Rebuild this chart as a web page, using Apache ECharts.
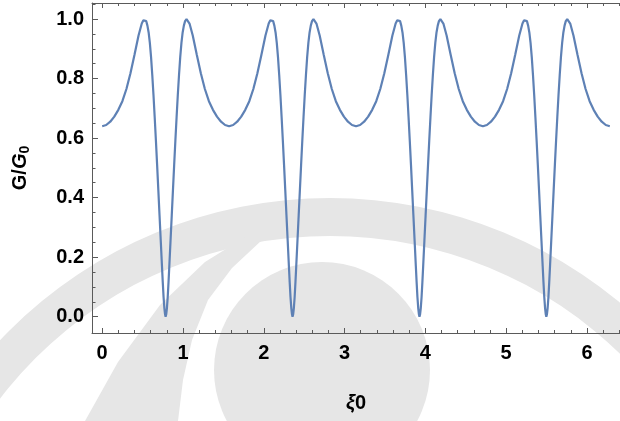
<!DOCTYPE html>
<html>
<head>
<meta charset="utf-8">
<script src="https://cdn.jsdelivr.net/npm/echarts@6/dist/echarts.min.js"></script>
<style>html,body{margin:0;padding:0;background:#fff;}#c{width:620px;height:421px;}</style>
</head>
<body>
<div id="c"></div>
<script>
// ξ0 values
var xi = [
0.000,0.050,0.100,0.150,0.200,0.250,0.300,0.350,0.400,0.450,0.490,0.510,0.527,
0.545,0.560,0.575,0.590,0.605,0.620,0.635,0.650,0.665,0.680,0.695,0.710,0.725,0.740,0.750,0.760,0.770,0.778,0.785,
0.793,0.801,0.811,0.821,0.831,0.846,0.861,0.876,0.891,0.906,0.921,0.936,0.951,0.966,0.981,0.996,1.011,1.026,1.044,1.061,
1.081,1.121,1.171,1.221,1.271,1.321,1.371,1.421,1.471,1.521,
1.571,1.621,1.671,1.721,1.771,1.821,1.871,1.921,1.971,2.021,2.061,2.081,2.098,
2.116,2.131,2.146,2.161,2.176,2.191,2.206,2.221,2.236,2.251,2.266,2.281,2.296,2.311,2.321,2.331,2.341,2.349,2.356,
2.364,2.372,2.382,2.392,2.402,2.417,2.432,2.447,2.462,2.477,2.492,2.507,2.522,2.537,2.552,2.567,2.582,2.597,2.615,2.632,
2.652,2.692,2.742,2.792,2.842,2.892,2.942,2.992,3.042,3.092,
3.142,3.192,3.242,3.292,3.342,3.392,3.442,3.492,3.542,3.592,3.632,3.652,3.669,
3.687,3.702,3.717,3.732,3.747,3.762,3.777,3.792,3.807,3.822,3.837,3.852,3.867,3.882,3.892,3.902,3.912,3.920,3.927,
3.935,3.943,3.953,3.963,3.973,3.988,4.003,4.018,4.033,4.048,4.063,4.078,4.093,4.108,4.123,4.138,4.153,4.168,4.186,4.203,
4.223,4.263,4.313,4.363,4.413,4.463,4.513,4.563,4.613,4.663,
4.712,4.762,4.812,4.862,4.912,4.962,5.012,5.062,5.112,5.162,5.202,5.222,5.239,
5.257,5.272,5.287,5.302,5.317,5.332,5.347,5.362,5.377,5.392,5.407,5.422,5.437,5.452,5.462,5.472,5.482,5.490,5.497,
5.505,5.513,5.523,5.533,5.543,5.558,5.573,5.588,5.603,5.618,5.633,5.648,5.663,5.678,5.693,5.708,5.723,5.738,5.756,5.773,
5.793,5.833,5.883,5.933,5.983,6.033,6.083,6.133,6.183,6.233,6.283
];
// G/G0 values
var g = [
0.640,0.644,0.655,0.672,0.695,0.724,0.765,0.818,0.880,0.945,0.985,0.996,1.000,
0.993,0.978,0.955,0.920,0.872,0.812,0.745,0.670,0.592,0.510,0.425,0.340,0.255,0.170,0.115,0.065,0.028,0.008,0.000,
0.008,0.028,0.065,0.115,0.170,0.255,0.340,0.425,0.510,0.592,0.670,0.745,0.812,0.872,0.920,0.955,0.978,0.993,1.000,0.996,
0.985,0.945,0.880,0.818,0.765,0.724,0.695,0.672,0.655,0.644,
0.640,0.644,0.655,0.672,0.695,0.724,0.765,0.818,0.880,0.945,0.985,0.996,1.000,
0.993,0.978,0.955,0.920,0.872,0.812,0.745,0.670,0.592,0.510,0.425,0.340,0.255,0.170,0.115,0.065,0.028,0.008,0.000,
0.008,0.028,0.065,0.115,0.170,0.255,0.340,0.425,0.510,0.592,0.670,0.745,0.812,0.872,0.920,0.955,0.978,0.993,1.000,0.996,
0.985,0.945,0.880,0.818,0.765,0.724,0.695,0.672,0.655,0.644,
0.640,0.644,0.655,0.672,0.695,0.724,0.765,0.818,0.880,0.945,0.985,0.996,1.000,
0.993,0.978,0.955,0.920,0.872,0.812,0.745,0.670,0.592,0.510,0.425,0.340,0.255,0.170,0.115,0.065,0.028,0.008,0.000,
0.008,0.028,0.065,0.115,0.170,0.255,0.340,0.425,0.510,0.592,0.670,0.745,0.812,0.872,0.920,0.955,0.978,0.993,1.000,0.996,
0.985,0.945,0.880,0.818,0.765,0.724,0.695,0.672,0.655,0.644,
0.640,0.644,0.655,0.672,0.695,0.724,0.765,0.818,0.880,0.945,0.985,0.996,1.000,
0.993,0.978,0.955,0.920,0.872,0.812,0.745,0.670,0.592,0.510,0.425,0.340,0.255,0.170,0.115,0.065,0.028,0.008,0.000,
0.008,0.028,0.065,0.115,0.170,0.255,0.340,0.425,0.510,0.592,0.670,0.745,0.812,0.872,0.920,0.955,0.978,0.993,1.000,0.996,
0.985,0.945,0.880,0.818,0.765,0.724,0.695,0.672,0.655,0.644,0.640
];
// tick values
var xMajor = [0, 1, 2, 3, 4, 5, 6];
var xMinor = [0.2,0.4,0.6,0.8,1.2,1.4,1.6,1.8,2.2,2.4,2.6,2.8,3.2,3.4,3.6,3.8,4.2,4.4,4.6,4.8,5.2,5.4,5.6,5.8,6.2,6.4];
var yMajor = [0, 0.2, 0.4, 0.6, 0.8, 1.0];
var yMinor = [0.05,0.1,0.15,0.25,0.3,0.35,0.45,0.5,0.55,0.65,0.7,0.75,0.85,0.9,0.95,1.05];

var X_MIN = -0.126, X_MAX = 6.409, Y_MIN = -0.055, Y_MAX = 1.054;
var FRAME = '#5a5a5a';
var FONT = 'Liberation Sans, Arial, Helvetica, sans-serif';

var pts = xi.map(function (v, i) { return [v, g[i]]; });

function xAx(pos, ticks, len, labels, line) {
  return {
    type: 'value', position: pos, min: X_MIN, max: X_MAX,
    axisLine: { show: line, onZero: false, lineStyle: { color: FRAME, width: 1 } },
    axisTick: { show: true, inside: true, length: len, customValues: ticks, lineStyle: { color: FRAME, width: 1 } },
    axisLabel: labels ? { show: true, customValues: ticks, margin: 10, color: '#000', fontSize: 20, fontWeight: 'bold', fontFamily: FONT,
      formatter: function (v) { return String(Math.round(v)); } } : { show: false },
    splitLine: { show: false }
  };
}
function yAx(ticks, len, labels, line) {
  return {
    type: 'value', position: 'left', min: Y_MIN, max: Y_MAX,
    axisLine: { show: line, onZero: false, lineStyle: { color: FRAME, width: 1 } },
    axisTick: { show: true, inside: true, length: len, customValues: ticks, lineStyle: { color: FRAME, width: 1 } },
    axisLabel: labels ? { show: true, customValues: ticks, margin: 8, color: '#000', fontSize: 20, fontWeight: 'bold', fontFamily: FONT,
      formatter: function (v) { return v.toFixed(1); } } : { show: false },
    splitLine: { show: false }
  };
}

var xa0 = xAx('bottom', xMajor, 5, true, true);
xa0.name = '{i|ξ}{n|0}';
xa0.nameLocation = 'middle';
xa0.nameGap = 60;
xa0.nameTextStyle = { rich: {
  i: { fontSize: 20, fontWeight: 'bold', fontStyle: 'italic', fontFamily: FONT, color: '#000' },
  n: { fontSize: 20, fontWeight: 'bold', fontFamily: FONT, color: '#000' } } };

var ya0 = yAx(yMajor, 6, true, true);
ya0.name = '{a|G/}{b|G}{s|0}';
ya0.nameLocation = 'middle';
ya0.nameGap = 60;
ya0.nameRotate = 90;
ya0.nameTextStyle = { rich: {
  a: { fontSize: 20, fontWeight: 'bold', fontFamily: FONT, color: '#000', lineHeight: 24 },
  b: { fontSize: 20, fontWeight: 'bold', fontStyle: 'italic', fontFamily: FONT, color: '#000', lineHeight: 24 },
  s: { fontSize: 14, fontWeight: 'bold', fontFamily: FONT, color: '#000', lineHeight: 24, padding: [10, 0, 0, 0] } } };

var chart = echarts.init(document.getElementById('c'), null, { renderer: 'canvas' });
chart.setOption({
  animation: false,
  backgroundColor: '#ffffff',
  grid: { left: 91, right: -6, top: 3, bottom: 88, containLabel: false },
  graphic: [
    { type: 'ring', z: -10, silent: true, shape: { cx: 330, cy: 652, r: 454, r0: 416 }, style: { fill: '#e6e6e6' } },
    { type: 'circle', z: -10, silent: true, shape: { cx: 322, cy: 370, r: 108 }, style: { fill: '#e6e6e6' } },
    { type: 'polygon', z: -10, silent: true, shape: { points: [[85,421],[118,362],[160,305],[205,262],[250,234],[262,240],[232,268],[208,300],[192,340],[183,380],[178,421]] }, style: { fill: '#e6e6e6' } }
  ],
  xAxis: [
    xa0,
    xAx('bottom', xMinor, 3, false, false),
    xAx('top', xMajor, 5, false, true),
    xAx('top', xMinor, 3, false, false)
  ],
  yAxis: [
    ya0,
    yAx(yMinor, 3.5, false, false)
  ],
  series: [{
    type: 'line', xAxisIndex: 0, yAxisIndex: 0, data: pts,
    showSymbol: false, symbol: 'none', smooth: false, z: 5,
    lineStyle: { color: '#5e81b5', width: 2.2 }
  }]
});
</script>
</body>
</html>
